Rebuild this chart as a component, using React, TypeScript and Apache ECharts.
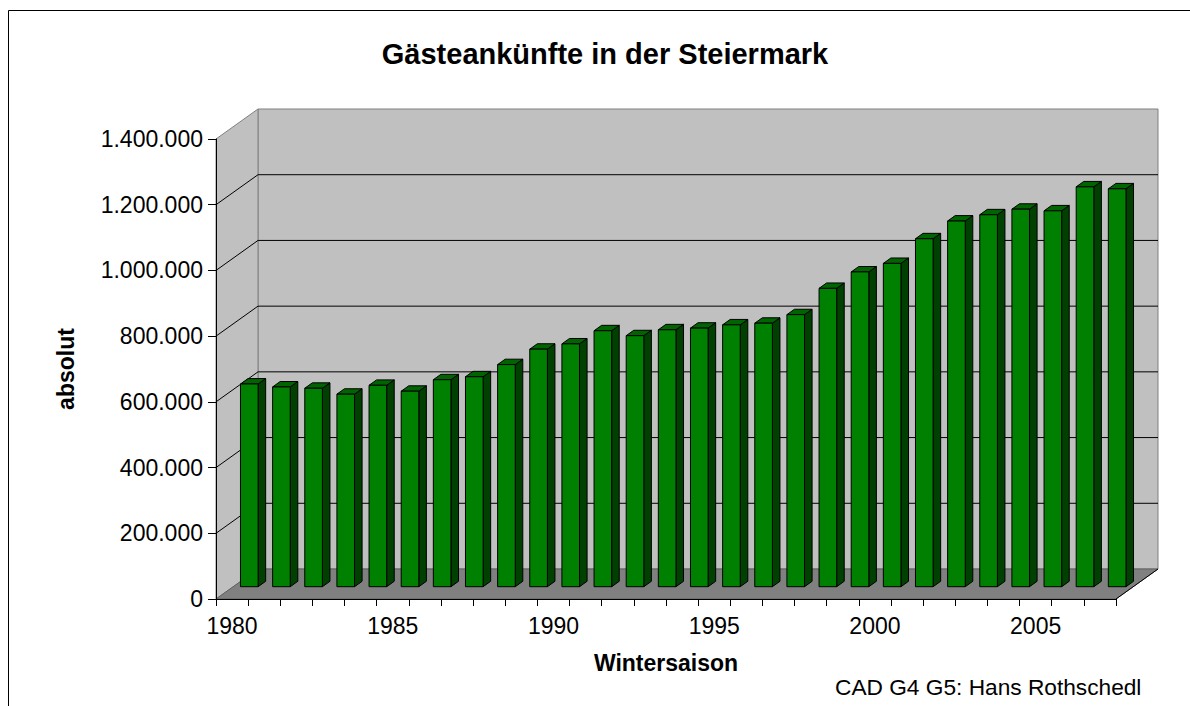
import React, { useEffect, useRef } from "react";
import * as echarts from "echarts";

const years = [
  "1980", "1981", "1982", "1983", "1984", "1985", "1986", "1987", "1988", "1989",
  "1990", "1991", "1992", "1993", "1994", "1995", "1996", "1997", "1998", "1999",
  "2000", "2001", "2002", "2003", "2004", "2005", "2006", "2007",
];
const arrivals = [
  617000, 608000, 604000, 586000, 613000, 595000, 630000, 639000, 676000, 723000,
  739000, 779000, 764000, 782000, 787000, 797000, 802000, 828000, 908000, 958000,
  984000, 1059000, 1113000, 1132000, 1149000, 1144000, 1217000, 1211000,
];
const yTicks = [0, 200000, 400000, 600000, 800000, 1000000, 1200000, 1400000];

const chartTitle = "Gästeankünfte in der Steiermark";
const xName = "Wintersaison";
const yName = "absolut";
const credit = "CAD G4 G5: Hans Rothschedl";

// 3D look: depth vector of the plot box, and bar slab inside it
const DEPTH: [number, number] = [42, -30];
const BAR_FRONT = 0.41;
const BAR_BACK = 0.59;
const BAR_WIDTH_RATIO = 0.548;
const FONT = "'Liberation Sans', Arial, sans-serif";

function fmt(v: number): string {
  return String(v).replace(/\B(?=(\d{3})+(?!\d))/g, ".");
}

function renderWalls(params: any, api: any) {
  const cs = params.coordSys;
  const x0 = cs.x;
  const x1 = cs.x + cs.width;
  const yt = cs.y;
  const yb = cs.y + cs.height;
  const [dx, dy] = DEPTH;
  const children: any[] = [];
  children.push({
    type: "polygon",
    shape: { points: [[x0 + dx, yt + dy], [x1 + dx, yt + dy], [x1 + dx, yb + dy], [x0 + dx, yb + dy]] },
    style: { fill: "#c0c0c0", stroke: "#808080", lineWidth: 1 },
  });
  children.push({
    type: "polygon",
    shape: { points: [[x0, yb], [x0, yt], [x0 + dx, yt + dy], [x0 + dx, yb + dy]] },
    style: { fill: "#c0c0c0", stroke: "#808080", lineWidth: 1 },
  });
  children.push({
    type: "polygon",
    shape: { points: [[x0, yb], [x1, yb], [x1 + dx, yb + dy], [x0 + dx, yb + dy]] },
    style: { fill: "#808080", stroke: "#606060", lineWidth: 1 },
  });
  children.push({
    type: "line",
    shape: { x1: x1, y1: yb, x2: x1 + dx, y2: yb + dy },
    style: { stroke: "#000", lineWidth: 1 },
  });
  const maxV = yTicks[yTicks.length - 1];
  yTicks.forEach((v) => {
    if (v === 0 || v === maxV) return;
    const y = api.coord([0, v])[1];
    children.push({
      type: "line",
      shape: { x1: x0, y1: y, x2: x0 + dx, y2: y + dy },
      style: { stroke: "#000", lineWidth: 1 },
    });
    children.push({
      type: "line",
      shape: { x1: x0 + dx, y1: y + dy, x2: x1 + dx, y2: y + dy },
      style: { stroke: "#000", lineWidth: 1 },
    });
  });
  return { type: "group", children };
}

function renderBar(params: any, api: any) {
  const i = api.value(0);
  const v = api.value(1);
  const top = api.coord([i, v]);
  const base = api.coord([i, 0]);
  const bw = api.size([1, 0])[0] * BAR_WIDTH_RATIO;
  const [dx, dy] = DEPTH;
  const fx = dx * BAR_FRONT;
  const fy = dy * BAR_FRONT;
  const bx = dx * BAR_BACK;
  const by = dy * BAR_BACK;
  const xl = top[0] - bw / 2;
  const xr = top[0] + bw / 2;
  const yt = top[1];
  const yb = base[1];
  const edge = { stroke: "#000", lineWidth: 1 };
  return {
    type: "group",
    children: [
      {
        type: "polygon",
        shape: { points: [[xr + fx, yt + fy], [xr + bx, yt + by], [xr + bx, yb + by], [xr + fx, yb + fy]] },
        style: { fill: "#004000", ...edge },
      },
      {
        type: "polygon",
        shape: { points: [[xl + fx, yt + fy], [xr + fx, yt + fy], [xr + bx, yt + by], [xl + bx, yt + by]] },
        style: { fill: "#006400", ...edge },
      },
      {
        type: "rect",
        shape: { x: xl + fx, y: yt + fy, width: bw, height: yb - yt },
        style: { fill: "#008000", ...edge },
      },
    ],
  };
}

export default function App() {
  const ref = useRef<HTMLDivElement>(null);
  useEffect(() => {
    if (!ref.current) return;
    const chart = echarts.init(ref.current, null, { renderer: "svg" });
    chart.setOption({
      animation: false,
      backgroundColor: "#ffffff",
      textStyle: { fontFamily: FONT, color: "#000" },
      grid: { left: 216, right: 74, top: 139, bottom: 107, containLabel: false },
      xAxis: {
        type: "category",
        data: years,
        boundaryGap: true,
        z: 5,
        name: xName,
        nameLocation: "middle",
        nameGap: 52,
        nameTextStyle: { fontFamily: FONT, fontWeight: "bold", fontSize: 23, color: "#000" },
        axisLine: { show: true, lineStyle: { color: "#000", width: 1 } },
        axisTick: { show: true, interval: 0, length: 7, alignWithLabel: false, lineStyle: { color: "#000" } },
        axisLabel: { interval: 4, fontFamily: FONT, fontSize: 23, color: "#000", margin: 15 },
        splitLine: { show: false },
      },
      yAxis: {
        type: "value",
        min: 0,
        max: 1400000,
        interval: 200000,
        z: 5,
        name: yName,
        nameLocation: "middle",
        nameGap: 139,
        nameRotate: 90,
        nameTextStyle: { fontFamily: FONT, fontWeight: "bold", fontSize: 23, color: "#000" },
        axisLine: { show: true, lineStyle: { color: "#000", width: 1 } },
        axisTick: { show: true, length: 8, lineStyle: { color: "#000" } },
        axisLabel: { fontFamily: FONT, fontSize: 23, color: "#000", margin: 13, formatter: (v: number) => fmt(v) },
        splitLine: { show: false },
      },
      series: [
        {
          type: "custom",
          name: "walls",
          data: [[0, 0]],
          renderItem: renderWalls,
          z: 1,
          silent: true,
          clip: false,
        },
        {
          type: "custom",
          name: "Gästeankünfte",
          data: arrivals.map((v, i) => [i, v]),
          encode: { x: 0, y: 1 },
          renderItem: renderBar,
          z: 3,
          clip: false,
        },
      ],
      graphic: [
        {
          type: "rect",
          shape: { x: 8.5, y: 10.5, width: 1200, height: 720 },
          style: { fill: "none", stroke: "#000", lineWidth: 1 },
          silent: true,
        },
        {
          type: "text",
          x: 605,
          y: 54,
          style: {
            text: chartTitle,
            font: `bold 29px ${FONT}`,
            fill: "#000",
            textAlign: "center",
            textVerticalAlign: "middle",
          },
        },
        {
          type: "text",
          x: 835,
          y: 687,
          style: {
            text: credit,
            font: `22.7px ${FONT}`,
            fill: "#000",
            textAlign: "left",
            textVerticalAlign: "middle",
          },
        },
      ],
    });
    return () => chart.dispose();
  }, []);
  return (
    <div
      ref={ref}
      style={{ position: "fixed", left: 0, top: 0, width: 1190, height: 706, background: "#fff" }}
    />
  );
}
